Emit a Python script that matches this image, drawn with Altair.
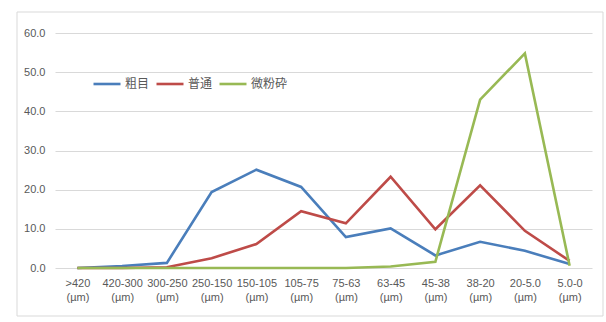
import altair as alt
import pandas as pd

categories = [">420", "420-300", "300-250", "250-150", "150-105", "105-75",
              "75-63", "63-45", "45-38", "38-20", "20-5.0", "5.0-0"]
series_names = ["粗目", "普通", "微粉砕"]
coarse = [0.0, 0.5, 1.3, 19.4, 25.1, 20.7, 7.9, 10.1, 3.2, 6.7, 4.4, 1.0]
normal = [0.0, 0.0, 0.2, 2.5, 6.1, 14.5, 11.4, 23.3, 9.9, 21.1, 9.5, 1.8]
fine = [0.0, 0.0, 0.0, 0.0, 0.0, 0.0, 0.0, 0.4, 1.6, 43.0, 54.8, 0.6]
colors = ["#4A7EBB", "#BE4B48", "#98B954"]

rows = []
for name, vals in zip(series_names, [coarse, normal, fine]):
    for i, (c, v) in enumerate(zip(categories, vals)):
        rows.append({"cat": c, "series": name, "value": v, "order": i})
df = pd.DataFrame(rows)

FONT = "Noto Sans CJK JP"
GRAY = "#595959"

lines = alt.Chart(df).mark_line(strokeWidth=2.6, clip=False).encode(
    x=alt.X("cat:N", sort=categories, title=None,
            scale=alt.Scale(type="point", padding=0.5),
            axis=alt.Axis(labelAngle=0, domain=False, ticks=False, grid=False,
                          labelExpr="[datum.label, '(µm)']",
                          labelColor=GRAY, labelFont="Liberation Sans",
                          labelFontSize=11, labelPadding=9, labelLineHeight=14,
                          labelBaseline="top")),
    y=alt.Y("value:Q", title=None,
            scale=alt.Scale(domain=[0, 60], nice=False),
            axis=alt.Axis(values=[0, 10, 20, 30, 40, 50, 60], format=".1f",
                          domain=False, ticks=False, gridColor="#D9D9D9",
                          labelColor=GRAY, labelFont="Liberation Sans",
                          labelFontSize=11, labelPadding=10)),
    color=alt.Color("series:N",
                    scale=alt.Scale(domain=series_names, range=colors),
                    legend=alt.Legend(orient="none", legendX=37, legendY=36,
                                      direction="horizontal", title=None,
                                      symbolType="stroke", symbolSize=729,
                                      symbolStrokeWidth=2.6, labelFont=FONT,
                                      labelFontSize=12, labelColor=GRAY,
                                      labelOffset=3, columnPadding=1)),
    order="order:Q",
)

frame = alt.Chart(alt.Data(values=[{}])).mark_rect(
    fill=None, stroke="#D9D9D9", strokeWidth=1, clip=False
).encode(
    x=alt.value(-38), x2=alt.value(548), y=alt.value(-21), y2=alt.value(283)
)

chart = alt.layer(frame, lines).properties(
    width=537, height=235,
    padding={"left": 55, "top": 33, "right": 14, "bottom": 54},
    autosize=alt.AutoSizeParams(type="none"),
    background="white",
).configure_view(stroke=None)

chart.save("out.html", embed_options={"renderer": "svg", "actions": False})
